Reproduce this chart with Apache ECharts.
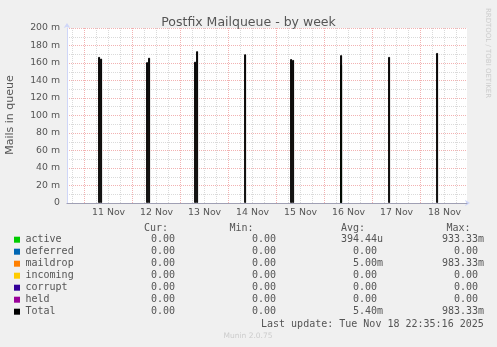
<!DOCTYPE html>
<html>
<head>
<meta charset="utf-8">
<script src="https://cdn.jsdelivr.net/npm/echarts@6/dist/echarts.min.js"></script>
<style>
html,body{margin:0;padding:0;background:#F0F0F0;}
#c{width:497px;height:347px;}
</style>
</head>
<body>
<div id="c"></div>
<script>
// ---------- data ----------
const chartTitle = 'Postfix Mailqueue - by week';
const yAxisTitle = 'Mails in queue';
const monthName = 'Nov';
const rangeStart = '2025-11-10 15:12';
const rangeEnd = '2025-11-18 23:12';
const yMax = 200;      // milli-mails
const yStep = 20;

// queue spikes (values in m = 1/1000 mail)
const spikeTimes = [
  '2025-11-11 07:15', '2025-11-11 08:15',
  '2025-11-12 07:15', '2025-11-12 08:15',
  '2025-11-13 07:15', '2025-11-13 08:15',
  '2025-11-14 08:15',
  '2025-11-15 07:15', '2025-11-15 08:15',
  '2025-11-16 08:15',
  '2025-11-17 08:15',
  '2025-11-18 08:15'
];
const maildropValues = [167, 165, 161, 166, 161.5, 173.5, 170, 164.5, 163.5, 11, 167, 171.5];
const activeValues   = [0, 0, 0, 0, 0, 0, 0, 0, 0, 158, 0, 0];

// legend table
const legendNames  = ['active', 'deferred', 'maildrop', 'incoming', 'corrupt', 'held', 'Total'];
const legendColors = ['#00CC00', '#0066B3', '#FF8000', '#FFCC00', '#330099', '#990099', '#000000'];
const legendHeaders = ['Cur:', 'Min:', 'Avg:', 'Max:'];
const curValues = ['0.00', '0.00', '0.00', '0.00', '0.00', '0.00', '0.00'];
const minValues = ['0.00', '0.00', '0.00', '0.00', '0.00', '0.00', '0.00'];
const avgValues = ['394.44u', '0.00', '5.00m', '0.00', '0.00', '0.00', '5.40m'];
const maxValues = ['933.33m', '0.00', '983.33m', '0.00', '0.00', '0.00', '983.33m'];
const lastUpdate = 'Last update: Tue Nov 18 22:35:16 2025';
const footer = 'Munin 2.0.75';
const sideText = 'RRDTOOL / TOBI OETIKER';

// ---------- helpers ----------
function toDay(s) {
  const parts = s.split(' ');
  const day = Number(parts[0].split('-')[2]);
  const hm = parts[1].split(':').map(Number);
  return day + hm[0] / 24 + hm[1] / 1440;
}
const xMin = toDay(rangeStart);
const xMax = toDay(rangeEnd);
const spikeX = spikeTimes.map(toDay);
const totalValues = maildropValues.map((v, i) => v + activeValues[i]);

const FONT = 'DejaVu Sans';
const MONO = 'DejaVu Sans Mono';
const TXT = '#555555';

const chart = echarts.init(document.getElementById('c'), null, {renderer: 'canvas'});

const barGradient = new echarts.graphic.LinearGradient(0, 0, 0, 1, [
  {offset: 0, color: '#1a0e04'},
  {offset: 0.3, color: '#5a3816'},
  {offset: 0.65, color: '#a67c4e'},
  {offset: 1, color: '#f6eee2'}
]);
const activeGradient = new echarts.graphic.LinearGradient(0, 0, 0, 1, [
  {offset: 0, color: '#1f5a10'},
  {offset: 0.5, color: '#3a9a18'},
  {offset: 1, color: '#00CC00'}
]);

// ---------- legend graphics ----------
const graphics = [];
const rowY0 = 239.7, rowStep = 12;
const headerX = [144, 229.5, 341, 446.5];
const colRight = [175, 276, 377, 478];
legendHeaders.forEach((h, i) => {
  graphics.push({type: 'text', x: headerX[i], y: 228.3, silent: true,
    style: {text: h, fill: TXT, font: '10px "' + MONO + '"', textAlign: 'left', textVerticalAlign: 'middle'}});
});
const cols = [curValues, minValues, avgValues, maxValues];
legendNames.forEach((name, r) => {
  const y = rowY0 + r * rowStep;
  graphics.push({type: 'rect', silent: true, shape: {x: 14, y: y - 3, width: 6, height: 6},
    style: {fill: legendColors[r]}});
  graphics.push({type: 'text', x: 25.5, y: y, silent: true,
    style: {text: name, fill: TXT, font: '10px "' + MONO + '"', textAlign: 'left', textVerticalAlign: 'middle'}});
  cols.forEach((col, c) => {
    const s = col[r];
    const m = s.match(/^([0-9.]+)([a-zA-Z]?)$/);
    graphics.push({type: 'text', x: colRight[c], y: y, silent: true,
      style: {text: m[1], fill: TXT, font: '10px "' + MONO + '"', textAlign: 'right', textVerticalAlign: 'middle'}});
    if (m[2]) {
      graphics.push({type: 'text', x: colRight[c], y: y, silent: true,
        style: {text: m[2], fill: TXT, font: '10px "' + MONO + '"', textAlign: 'left', textVerticalAlign: 'middle'}});
    }
  });
});
graphics.push({type: 'text', x: 261, y: 324, silent: true,
  style: {text: lastUpdate, fill: TXT, font: '10px "' + MONO + '"', textAlign: 'left', textVerticalAlign: 'middle'}});
graphics.push({type: 'text', x: 248, y: 336, silent: true,
  style: {text: footer, fill: '#cccccc', font: '7.5px "' + FONT + '"', textAlign: 'center', textVerticalAlign: 'middle'}});
graphics.push({type: 'text', x: 487.5, y: 53, rotation: -Math.PI / 2, silent: true,
  style: {text: sideText, fill: '#cccccc', font: '7px "' + FONT + '"', textAlign: 'center', textVerticalAlign: 'middle'}});
graphics.push({type: 'text', x: 10.5, y: 115, rotation: Math.PI / 2, silent: true,
  style: {text: yAxisTitle, fill: TXT, font: '11px "' + FONT + '"', textAlign: 'center', textVerticalAlign: 'middle'}});

const option = {
  animation: false,
  backgroundColor: '#F0F0F0',
  title: {
    text: chartTitle, left: 'center', top: 11,
    textStyle: {fontFamily: FONT, fontSize: 12.5, fontWeight: 'normal', color: TXT}
  },
  grid: {left: 67, top: 28, width: 400, height: 175, backgroundColor: '#FFFFFF', show: true, borderWidth: 0},
  xAxis: [
    {
      type: 'value', min: xMin, max: xMax, minInterval: 1, maxInterval: 1, splitNumber: 8,
      position: 'bottom', z: 3,
      axisLine: {show: true, lineStyle: {color: '#a0a0b4', width: 1}},
      axisTick: {show: false},
      axisLabel: {show: false},
      splitLine: {show: true, showMinLine: false, showMaxLine: false,
        lineStyle: {color: '#f2b2b2', width: 1, type: [1, 1]}},
      minorTick: {show: false, splitNumber: 4},
      minorSplitLine: {show: true, lineStyle: {color: '#dadada', width: 1, type: [1, 1]}}
    },
    {
      type: 'value', min: xMin - 0.5, max: xMax - 0.5, minInterval: 1, maxInterval: 1, splitNumber: 8,
      position: 'bottom', z: 1,
      axisLine: {show: true, lineStyle: {color: '#CFD6F8', width: 1},
        symbol: ['none', 'arrow'], symbolSize: [5, 5], symbolOffset: [0, 3]},
      axisTick: {show: false},
      splitLine: {show: false},
      axisLabel: {show: true, interval: 0, showMinLabel: false, showMaxLabel: false, margin: 5,
        formatter: v => v + ' ' + monthName,
        color: TXT, fontFamily: FONT, fontSize: 9.33}
    }
  ],
  yAxis: {
    type: 'value', min: 0, max: yMax, interval: yStep,
    axisLine: {show: true, onZero: false, lineStyle: {color: '#CFD6F8', width: 1},
      symbol: ['none', 'arrow'], symbolSize: [5, 5], symbolOffset: [0, 5]},
    axisTick: {show: false},
    axisLabel: {margin: 7, color: TXT, fontFamily: FONT, fontSize: 9.33,
      formatter: v => (v === 0 ? '0' : v + ' m')},
    splitLine: {show: true, showMinLine: false, lineStyle: {color: '#f2b2b2', width: 1, type: [1, 1]}},
    minorTick: {show: false, splitNumber: 2},
    minorSplitLine: {show: true, lineStyle: {color: '#dadada', width: 1, type: [1, 1]}}
  },
  series: [
    {
      name: 'Total', type: 'bar', xAxisIndex: 0, yAxisIndex: 0,
      barWidth: 2, barGap: '-100%', z: 2, silent: true,
      data: spikeX.map((x, i) => [x, totalValues[i]]),
      itemStyle: {color: barGradient, borderColor: '#000000', borderWidth: 1}
    },
    {
      name: 'active', type: 'bar', xAxisIndex: 0, yAxisIndex: 0,
      barWidth: 2, barGap: '-100%', z: 3, silent: true,
      data: spikeX.map((x, i) => [x, activeValues[i]]).filter(d => d[1] > 0),
      itemStyle: {color: activeGradient, borderColor: '#000000', borderWidth: 1}
    }
  ],
  graphic: graphics
};
chart.setOption(option);
</script>
</body>
</html>
